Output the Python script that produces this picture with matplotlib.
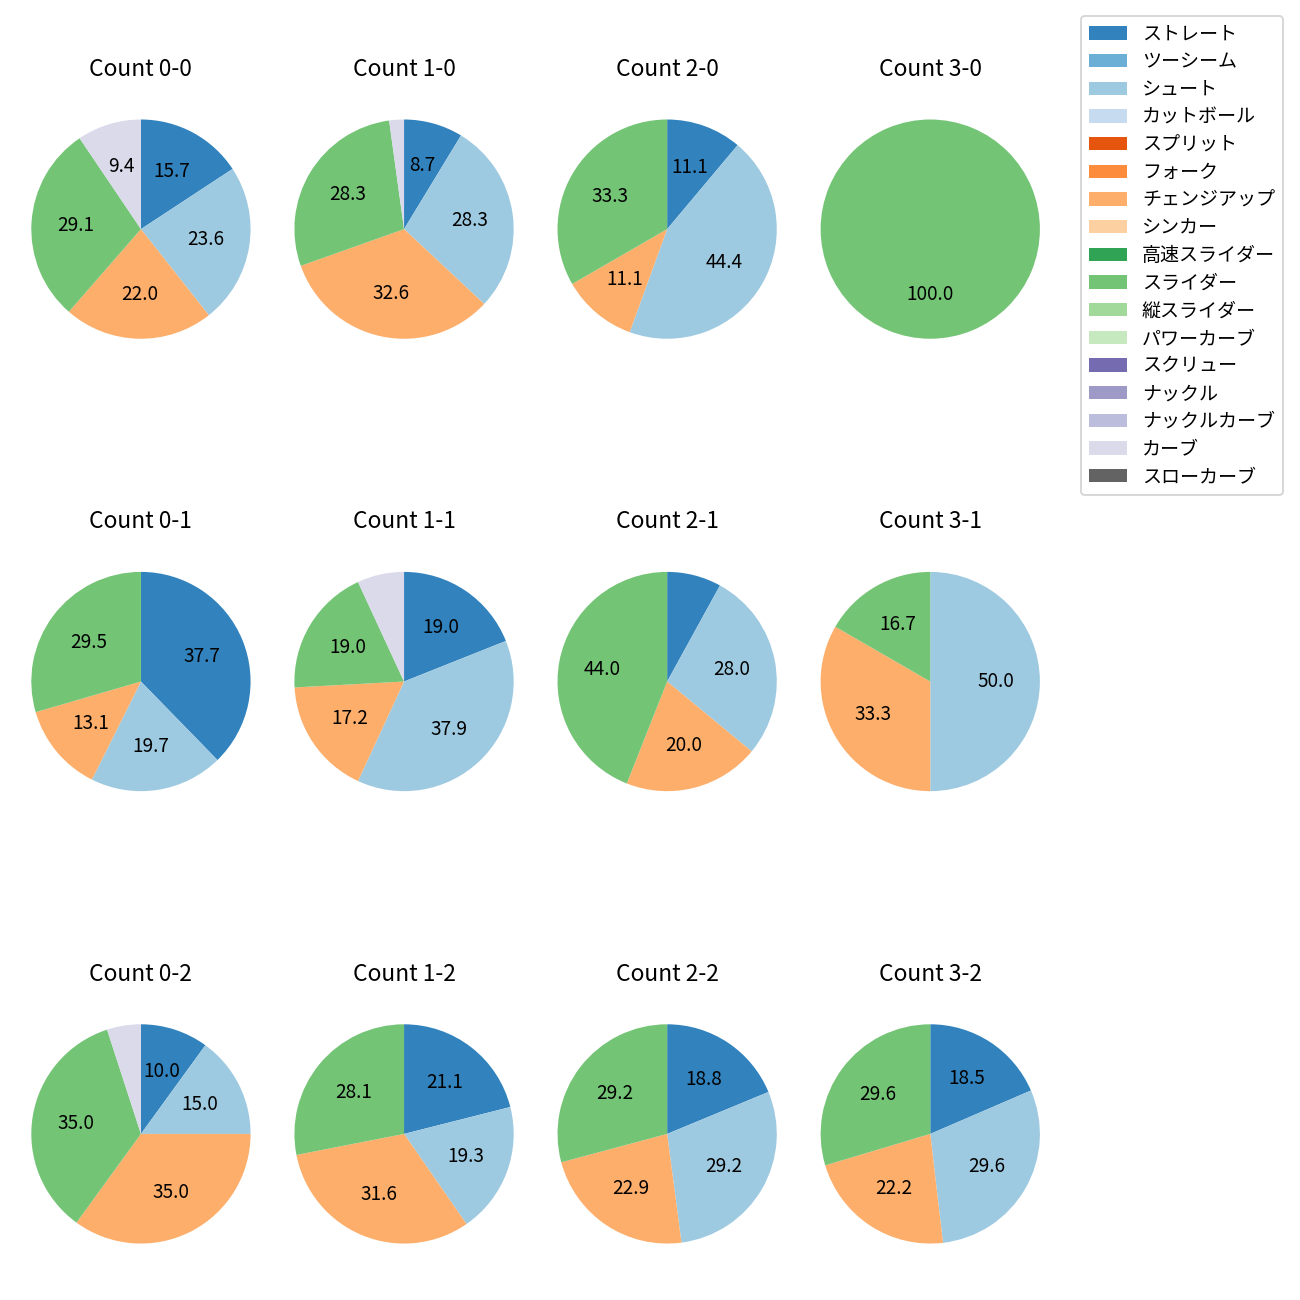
import matplotlib
matplotlib.use("Agg")
import matplotlib.pyplot as plt
from matplotlib.patches import Patch

plt.rcParams['font.family'] = ['Noto Sans CJK JP', 'DejaVu Sans']

# pitch types and colours (tab20c order)
pitch_types = ['ストレート', 'ツーシーム', 'シュート', 'カットボール', 'スプリット', 'フォーク',
               'チェンジアップ', 'シンカー', '高速スライダー', 'スライダー', '縦スライダー',
               'パワーカーブ', 'スクリュー', 'ナックル', 'ナックルカーブ', 'カーブ', 'スローカーブ']
colors = ['#3182bd', '#6baed6', '#9ecae1', '#c6dbef', '#e6550d', '#fd8d3c',
          '#fdae6b', '#fdd0a2', '#31a354', '#74c476', '#a1d99b', '#c7e9c0',
          '#756bb1', '#9e9ac8', '#bcbddc', '#dadaeb', '#636363']

# pitch counts per ball-strike count, worked out from the shown percentages
counts = ['0-0', '1-0', '2-0', '3-0', '0-1', '1-1', '2-1', '3-1', '0-2', '1-2', '2-2', '3-2']
straight = [20, 4, 1, 0, 23, 11, 2, 0, 2, 12, 9, 5]
shoot = [30, 13, 4, 0, 12, 22, 7, 3, 3, 11, 14, 8]
changeup = [28, 15, 1, 0, 8, 10, 5, 2, 7, 18, 11, 6]
slider = [37, 13, 3, 1, 18, 11, 11, 1, 7, 16, 14, 8]
curve = [12, 1, 0, 0, 0, 4, 0, 0, 1, 0, 0, 0]

series = {'ストレート': straight, 'シュート': shoot, 'チェンジアップ': changeup,
          'スライダー': slider, 'カーブ': curve}


def fmt(pct):
    return f'{pct:.1f}' if pct >= 8.5 else ''


dpi = 137
fig, axes = plt.subplots(3, 4, figsize=(1300 / dpi, 1300 / dpi), dpi=dpi)
fig.subplots_adjust(left=0.003, right=0.821, bottom=0.0223, top=0.9292,
                    wspace=-0.04, hspace=0.65)

for i, ax in enumerate(axes.flat):
    vals, cols = [], []
    for name in pitch_types:
        if name in series and series[name][i] > 0:
            vals.append(series[name][i])
            cols.append(colors[pitch_types.index(name)])
    ax.pie(vals, colors=cols, startangle=90, counterclock=False, autopct=fmt)
    ax.set_title('Count ' + counts[i], pad=8.5)

handles = [Patch(facecolor=c, label=n) for n, c in zip(pitch_types, colors)]
fig.legend(handles=handles, loc='upper right', bbox_to_anchor=(0.994, 0.995),
           labelspacing=0.35)

plt.savefig('out.png', dpi=dpi)
